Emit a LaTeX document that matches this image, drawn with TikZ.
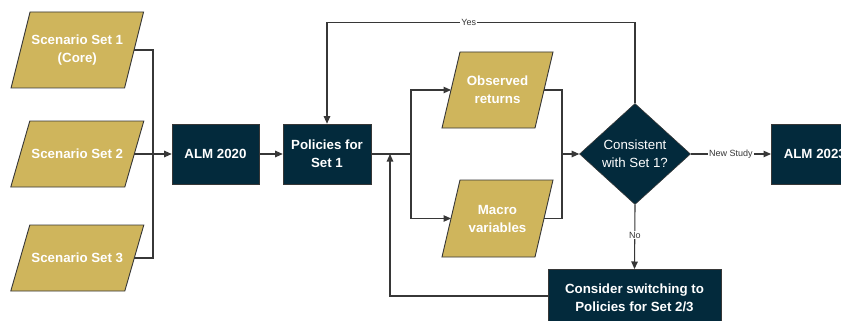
\documentclass[tikz,border=0pt]{standalone}
\usepackage{fontspec}
\setmainfont{Liberation Sans}
\usetikzlibrary{shapes.geometric,arrows.meta}
\definecolor{gold}{RGB}{207,181,92}
\definecolor{navy}{RGB}{3,42,60}
\definecolor{ln}{RGB}{55,55,55}
\tikzset{
  pgfill/.style={fill=gold, draw=ln, line width=0.9pt},
  pgtext/.style={text=white, font=\fontsize{13.3}{18}\selectfont\bfseries, align=center, inner sep=0pt},
  box/.style={fill=navy, draw=ln, line width=0.6pt, text=white, font=\fontsize{13.3}{18}\selectfont\bfseries, align=center, inner sep=0pt},
  dia/.style={diamond, fill=navy, draw=ln, line width=0.6pt, text=white, font=\fontsize{13.3}{17.7}\selectfont, align=center, inner sep=0pt, minimum width=111pt, minimum height=101pt, aspect=1.1},
  conn/.style={draw=ln, line width=1.1pt},
  arr/.style={conn, -{Triangle[length=7.5pt,width=6.5pt]}},
  lbl/.style={fill=white, inner sep=1pt, font=\fontsize{9}{10}\selectfont, text=ln}
}
\newcommand\pgshape[7]{%
  \filldraw[pgfill] ({#2-#4/2+#6/2},{#3-#5/2}) -- ({#2+#4/2+#6/2},{#3-#5/2}) -- ({#2+#4/2-#6/2},{#3+#5/2}) -- ({#2-#4/2-#6/2},{#3+#5/2}) -- cycle;
  \node[pgtext] (#1) at (#2,#3) {#7};
  \coordinate (#1r) at ({#2+#4/2},#3);
  \coordinate (#1l) at ({#2-#4/2},#3);
}
\begin{document}
\begin{tikzpicture}[x=1pt,y=-1pt]
\useasboundingbox (0,0) rectangle (841,321);
\clip (0,0) rectangle (841,321);
\fill[white] (0,0) rectangle (841,321);

% scenario sets
\pgshape{s1}{77.3}{50}{113.5}{76}{19}{Scenario Set 1\\(Core)}
\pgshape{s2}{77.3}{154}{114}{66}{19}{Scenario Set 2}
\pgshape{s3}{77.3}{258}{114}{66}{19}{Scenario Set 3}

% boxes
\node[box, minimum width=87pt, minimum height=60pt] (alm) at (215.5,154) {ALM 2020};
\node[box, minimum width=88pt, minimum height=60pt] (pol) at (327,154) {Policies for\\Set 1};

% observed / macro
\pgshape{obs}{497.5}{90}{93}{76}{18}{Observed\\returns}
\pgshape{mac}{497.5}{218.5}{93}{77}{18}{Macro\\variables}

% decision
\node[dia] (dec) at (635,154) {Consistent\\with Set 1?};

\node[box, minimum width=87pt, minimum height=60pt, anchor=west] (alm2) at (771,154) {ALM 2023};
\node[box, minimum width=173pt, minimum height=58pt, anchor=north] (cons) at (634.5,269) {\raisebox{0pt}{Consider switching to}\\Policies for Set 2/3};

% joints
\coordinate (j1) at (153,154);
\coordinate (j2) at (411,154);
\coordinate (j3) at (562,154);
\coordinate (fb) at (390,154);

% scenario -> ALM
\draw[conn] (s1r) -| (j1);
\draw[conn] (s3r) -| (j1);
\draw[arr] (s2r) -- (alm.west);
\draw[arr] (alm.east) -- (pol.west);

% policies -> branches
\draw[conn] (pol.east) -- (j2);
\draw[arr] (j2) |- (obsl);
\draw[arr] (j2) |- (macl);

% branches -> decision
\draw[conn] (obsr) -| (j3);
\draw[conn] (macr) -| (j3);
\draw[arr] (j3) -- (dec.west);

% yes loop
\draw[arr] (dec.north) -- (635,22.5) -- node[lbl, pos=0.54]{Yes} (327,22.5) -- (pol.north);

% new study
\draw[arr] (dec.east) -- node[lbl, pos=0.5]{New Study} (alm2.west);

% no
\draw[arr] (dec.south) -- node[lbl, pos=0.47]{No} (cons.north);

% feedback
\draw[arr] (cons.west |- 0,296) -- (390,296) -- (fb);
\end{tikzpicture}
\end{document}
